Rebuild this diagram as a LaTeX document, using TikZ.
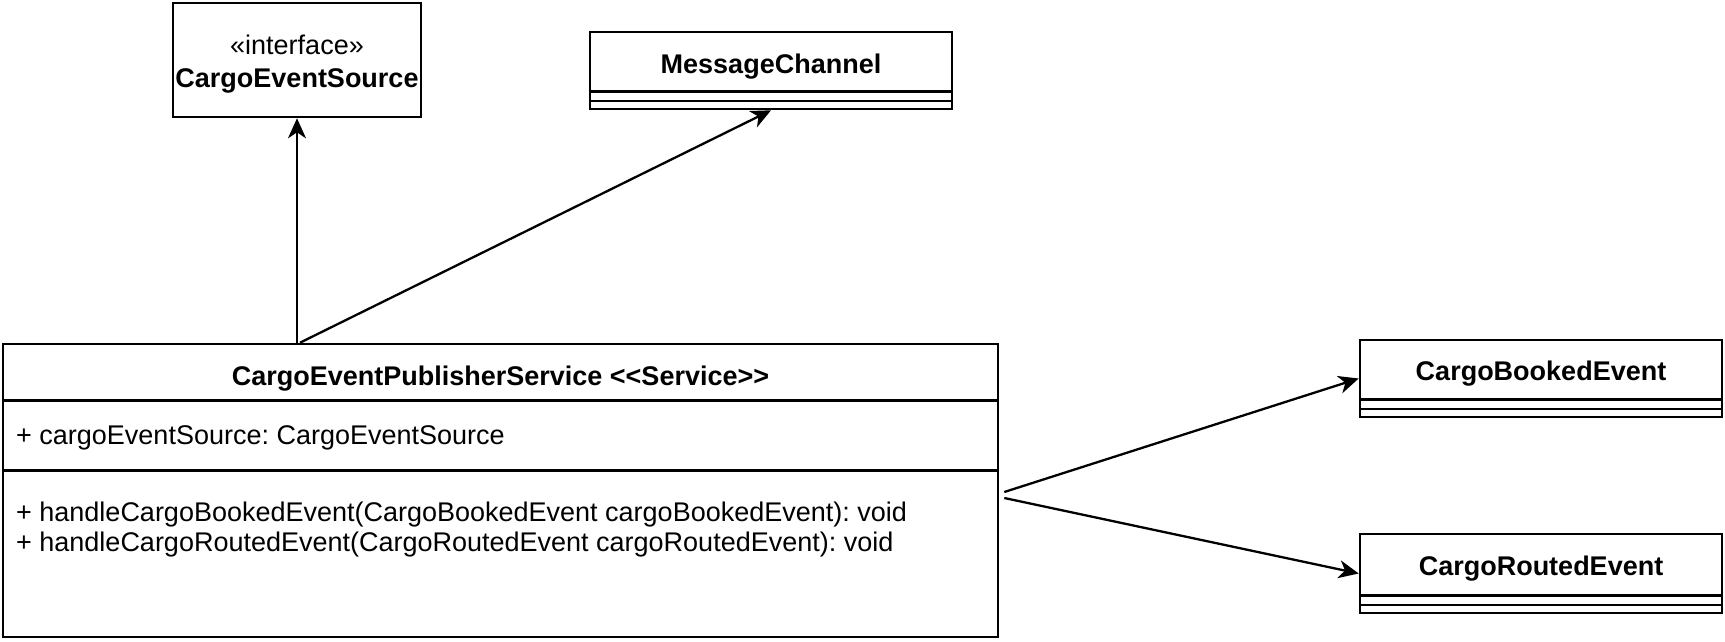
\documentclass[tikz,border=0pt]{standalone}
\usepackage{fontspec}
\setmainfont[Ligatures=NoCommon]{Liberation Sans}
\usetikzlibrary{calc, arrows.meta}
\frenchspacing

\begin{document}
\begin{tikzpicture}[x=1pt, y=-1pt,
        umlbox/.style={draw, line width=2.6pt, rectangle, inner sep=0pt},
        umltext/.style={font=\fontsize{27}{33}\selectfont, inner sep=0pt},
        link/.style={line width=2.3pt, -{Stealth[length=20pt, width=18pt, inset=6pt]}}]
        \useasboundingbox (0,0) rectangle (1725,642);
        \node[umlbox, minimum width=248pt, minimum height=114pt] (iface) at (297,60) {};
        \node[umlbox, minimum width=362pt, minimum height=77pt] (msg) at (771,70.5) {};
        \node[umlbox, minimum width=995pt, minimum height=293pt] (svc) at (500.5,490.5) {};
        \node[umlbox, minimum width=362pt, minimum height=77pt] (booked) at (1541,378.5) {};
        \node[umlbox, minimum width=362pt, minimum height=79pt] (routed) at (1541,573.5) {};
        \foreach \n in {msg, booked, routed} {
            \draw[line width=2.6pt] ([yshift=19pt]\n.south west) -- ([yshift=19pt]\n.south east);
            \draw[line width=2.6pt] ([yshift=9.5pt]\n.south west) -- ([yshift=9.5pt]\n.south east);
        }
        \draw[line width=2.6pt] ([yshift=-58pt]svc.north west) -- ([yshift=-58pt]svc.north east);
        \draw[line width=2.6pt] ([yshift=-128pt]svc.north west) -- ([yshift=-128pt]svc.north east);
        \node[umltext, align=center] (ifacename) at (297,64) {«interface»\\\textbf{CargoEventSource}};
        \node[umltext] (msgname) at (771,67) {\textbf{MessageChannel}};
        \node[umltext] (bookedname) at (1541,374) {\textbf{CargoBookedEvent}};
        \node[umltext] (routedname) at (1541,569) {\textbf{CargoRoutedEvent}};
        \node[umltext] (svcname) at (500.5,379) {\textbf{CargoEventPublisherService {<}{<}Service{>}{>}}};
        \node[umltext, anchor=west] (svcattr) at (16,437.5) {+ cargoEventSource: CargoEventSource};
        \node[umltext, anchor=west] (svcop1) at (16,514.5) {+ handleCargoBookedEvent(CargoBookedEvent cargoBookedEvent): void};
        \node[umltext, anchor=west] (svcop2) at (16,545) {+ handleCargoRoutedEvent(CargoRoutedEvent cargoRoutedEvent): void};
        \coordinate (fork) at (svc.north -| iface.south);
        \coordinate (out1) at ($(svc.east)+(5,1.5)$);
        \coordinate (out2) at ($(svc.east)+(5,7.5)$);
        \draw[link] (fork) -- (iface.south);
        \draw[link] ($(fork)+(3,0)$) -- (msg.south);
        \draw[link] (out1) -- (booked.west);
        \draw[link] (out2) -- (routed.west);
\end{tikzpicture}
\end{document}
